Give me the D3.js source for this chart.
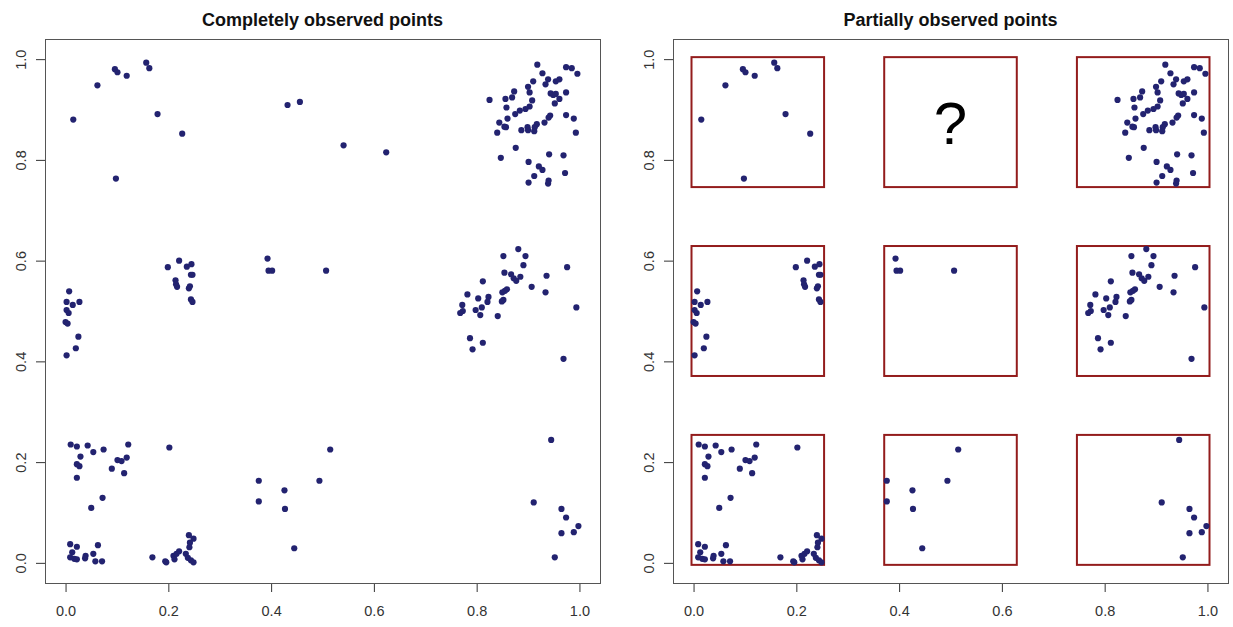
<!DOCTYPE html>
<html>
<head>
<meta charset="utf-8">
<script src="https://cdn.jsdelivr.net/npm/d3@7"></script>
<style>
  body { margin: 0; background: #fff; }
  svg { display: block; font-family: "Liberation Sans", Arial, sans-serif; }
</style>
</head>
<body>
<svg width="1233" height="627"></svg>
<script>
// point clouds, grouped by grid cell (x, y)
const cellBottomLeft = [
  [0.010,0.235],[0.022,0.231],[0.043,0.233],[0.054,0.220],[0.074,0.225],[0.122,0.235],
  [0.029,0.211],[0.022,0.196],[0.027,0.192],[0.101,0.204],[0.109,0.202],[0.119,0.209],
  [0.090,0.187],[0.114,0.178],[0.022,0.169],[0.072,0.129],[0.050,0.109],[0.202,0.229],
  [0.009,0.037],[0.022,0.032],[0.063,0.035],[0.013,0.021],[0.009,0.011],[0.017,0.008],
  [0.022,0.007],[0.039,0.014],[0.038,0.009],[0.054,0.018],[0.058,0.003],[0.071,0.003],
  [0.169,0.011],[0.194,0.003],[0.196,0.001],[0.210,0.014],[0.212,0.007],[0.216,0.018],
  [0.221,0.023],[0.240,0.055],[0.249,0.048],[0.242,0.040],[0.241,0.031],[0.234,0.018],
  [0.238,0.010],[0.244,0.005],[0.249,0.001]
];
const cellBottomMid = [
  [0.376,0.163],[0.376,0.122],[0.426,0.144],[0.427,0.107],[0.445,0.029],[0.494,0.163],[0.515,0.225]
];
const cellBottomRight = [
  [0.945,0.244],[0.911,0.120],[0.965,0.107],[0.974,0.090],[0.998,0.073],[0.989,0.061],
  [0.965,0.059],[0.952,0.011]
];
const cellMidLeft = [
  [0.007,0.539],[0.002,0.518],[0.014,0.512],[0.027,0.518],[0.002,0.502],[0.006,0.496],
  [0.000,0.478],[0.004,0.475],[0.025,0.449],[0.020,0.426],[0.002,0.412],
  [0.199,0.587],[0.221,0.600],[0.236,0.588],[0.245,0.593],[0.244,0.572],[0.247,0.572],
  [0.214,0.561],[0.215,0.553],[0.217,0.548],[0.240,0.545],[0.242,0.549],[0.244,0.523],
  [0.247,0.518]
];
const cellMidMid = [
  [0.393,0.604],[0.395,0.580],[0.402,0.580],[0.507,0.580]
];
const cellMidRight = [
  [0.881,0.623],[0.852,0.609],[0.895,0.609],[0.891,0.591],[0.976,0.587],[0.854,0.576],
  [0.867,0.573],[0.872,0.565],[0.877,0.560],[0.885,0.568],[0.936,0.570],[0.812,0.559],
  [0.907,0.548],[0.934,0.537],[0.859,0.543],[0.855,0.540],[0.850,0.537],[0.782,0.533],
  [0.823,0.528],[0.803,0.525],[0.821,0.518],[0.852,0.522],[0.849,0.519],[0.772,0.512],
  [0.810,0.507],[0.798,0.502],[0.773,0.500],[0.768,0.496],[0.807,0.492],[0.841,0.490],
  [0.994,0.507],[0.787,0.446],[0.812,0.437],[0.792,0.424],[0.969,0.405]
];
const cellTopLeft = [
  [0.015,0.880],[0.062,0.948],[0.096,0.980],[0.101,0.974],[0.119,0.967],[0.157,0.993],
  [0.163,0.982],[0.179,0.891],[0.227,0.852],[0.098,0.763]
];
const cellTopMid = [
  [0.432,0.909],[0.456,0.915],[0.541,0.829],[0.624,0.815]
];
const cellTopRight = [
  [0.918,0.989],[0.928,0.972],[0.974,0.984],[0.985,0.982],[0.996,0.971],[0.910,0.956],
  [0.900,0.945],[0.903,0.934],[0.873,0.936],[0.869,0.924],[0.856,0.921],[0.825,0.919],
  [0.858,0.904],[0.939,0.960],[0.934,0.950],[0.954,0.956],[0.961,0.960],[0.944,0.932],
  [0.949,0.929],[0.954,0.931],[0.961,0.921],[0.952,0.912],[0.974,0.934],[0.908,0.918],
  [0.903,0.906],[0.895,0.901],[0.884,0.898],[0.875,0.891],[0.943,0.888],[0.940,0.884],
  [0.974,0.889],[0.989,0.882],[0.993,0.854],[0.932,0.874],[0.917,0.871],[0.913,0.865],
  [0.912,0.857],[0.899,0.865],[0.900,0.859],[0.887,0.859],[0.860,0.882],[0.844,0.874],
  [0.854,0.866],[0.857,0.865],[0.840,0.854],[0.876,0.824],[0.847,0.804],[0.941,0.811],
  [0.969,0.809],[0.901,0.796],[0.921,0.787],[0.928,0.780],[0.972,0.774],[0.912,0.768],
  [0.901,0.755],[0.940,0.759],[0.939,0.753]
];

const points = [].concat(cellBottomLeft, cellBottomMid, cellBottomRight,
  cellMidLeft, cellMidMid, cellMidRight, cellTopLeft, cellTopMid, cellTopRight);

// grid cells used in the right panel
const cellRanges = [[0, 0.25], [0.375, 0.625], [0.75, 1]];
const hiddenCell = { x: [0.375, 0.625], y: [0.75, 1] };

const xTicks = [0, 0.2, 0.4, 0.6, 0.8, 1.0];
const yTicks = [0, 0.2, 0.4, 0.6, 0.8, 1.0];
const titles = ["Completely observed points", "Partially observed points"];

const svg = d3.select("svg");
const plotTop = 39, plotBottom = 583, plotW = 555;
const panelLefts = [45, 673];
const fmt = d3.format(".1f");
const pad = 0.004;

const inHidden = p => p[0] >= hiddenCell.x[0] && p[0] <= hiddenCell.x[1] &&
                      p[1] >= hiddenCell.y[0] && p[1] <= hiddenCell.y[1];

panelLefts.forEach((left, i) => {
  const x = d3.scaleLinear().domain([-0.04, 1.04]).range([left, left + plotW]);
  const y = d3.scaleLinear().domain([-0.04, 1.04]).range([plotBottom, plotTop]);
  const g = svg.append("g");

  // title
  g.append("text")
    .attr("x", left + plotW / 2).attr("y", 26)
    .attr("text-anchor", "middle")
    .style("font-size", "18px").style("font-weight", "bold").attr("fill", "#111")
    .text(titles[i]);

  // x axis
  const xa = g.append("g").attr("transform", `translate(0,${plotBottom})`)
    .call(d3.axisBottom(x).tickValues(xTicks).tickFormat(fmt).tickSize(9).tickPadding(14));
  xa.select(".domain").remove();
  xa.selectAll("line").attr("stroke", "#333");
  xa.selectAll("text").style("font-size", "14.5px").attr("fill", "#333");
  xa.attr("font-family", null);

  // y axis with rotated labels
  const ya = g.append("g").attr("transform", `translate(${left},0)`)
    .call(d3.axisLeft(y).tickValues(yTicks).tickFormat(fmt).tickSize(9));
  ya.select(".domain").remove();
  ya.selectAll("line").attr("stroke", "#333");
  ya.selectAll("text")
    .attr("x", null).attr("dy", null)
    .attr("text-anchor", "middle")
    .attr("transform", "translate(-19,0) rotate(-90)")
    .style("font-size", "14.5px").attr("fill", "#333");
  ya.attr("font-family", null);

  // frame
  g.append("rect")
    .attr("x", left + 0.5).attr("y", plotTop + 0.5)
    .attr("width", plotW).attr("height", plotBottom - plotTop)
    .attr("fill", "none").attr("stroke", "#555").attr("stroke-width", 1);

  let shown = points;
  if (i === 1) {
    shown = points.filter(p => !inHidden(p));
    const cells = d3.cross(cellRanges, cellRanges);
    g.selectAll("rect.cell").data(cells).join("rect")
      .attr("class", "cell")
      .attr("x", d => x(d[0][0] - pad))
      .attr("y", d => y(d[1][1] + pad))
      .attr("width", d => x(d[0][1] + pad) - x(d[0][0] - pad))
      .attr("height", d => y(d[1][0] - pad) - y(d[1][1] + pad))
      .attr("fill", "none").attr("stroke", "#931c1c").attr("stroke-width", 2);

    g.append("text")
      .attr("x", x((hiddenCell.x[0] + hiddenCell.x[1]) / 2))
      .attr("y", y((hiddenCell.y[0] + hiddenCell.y[1]) / 2))
      .attr("dy", "0.36em")
      .attr("text-anchor", "middle")
      .style("font-size", "60px").attr("fill", "#000")
      .text("?");
  }

  g.selectAll("circle").data(shown).join("circle")
    .attr("cx", d => x(d[0]))
    .attr("cy", d => y(d[1]))
    .attr("r", 3.1)
    .attr("fill", "#232370");
});
</script>
</body>
</html>
